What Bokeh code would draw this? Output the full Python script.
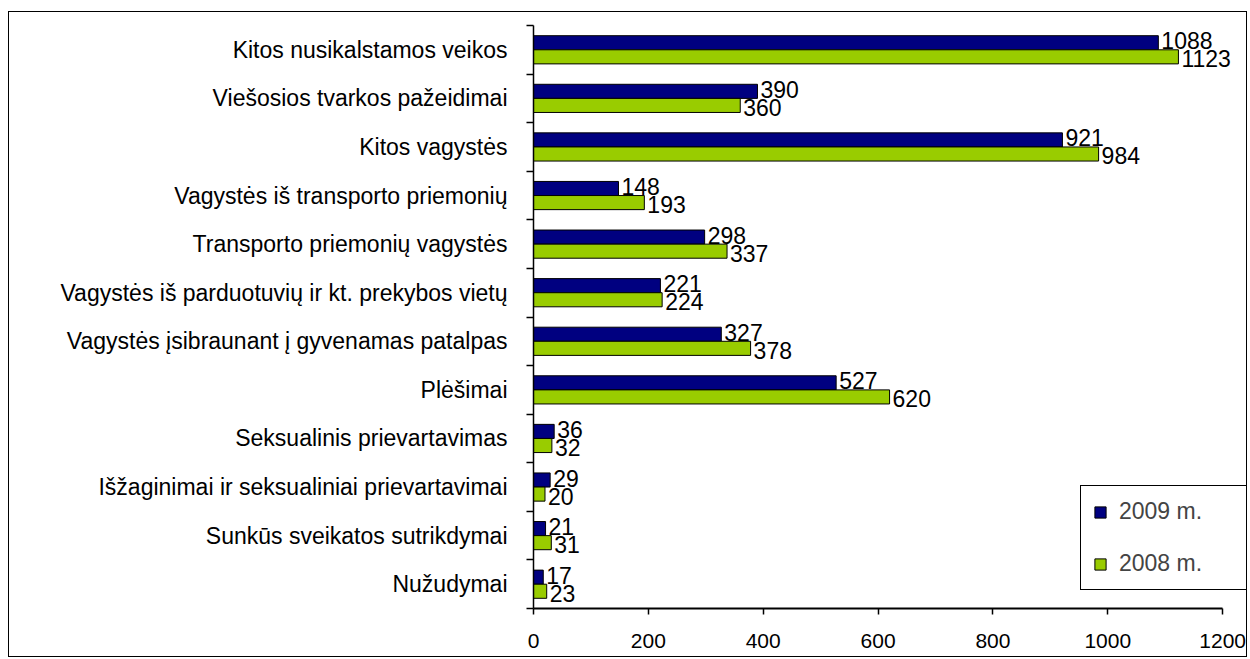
from bokeh.plotting import figure
from bokeh.models import FixedTicker, Range1d, Legend, LegendItem
from bokeh.core.properties import value
from bokeh.embed import file_html
from bokeh.resources import INLINE

categories = [
    "Kitos nusikalstamos veikos",
    "Viešosios tvarkos pažeidimai",
    "Kitos vagystės",
    "Vagystės iš transporto priemonių",
    "Transporto priemonių vagystės",
    "Vagystės iš parduotuvių ir kt. prekybos vietų",
    "Vagystės įsibraunant į gyvenamas patalpas",
    "Plėšimai",
    "Seksualinis prievartavimas",
    "Išžaginimai ir seksualiniai prievartavimai",
    "Sunkūs sveikatos sutrikdymai",
    "Nužudymai",
]
v2009 = [1088, 390, 921, 148, 298, 221, 327, 527, 36, 29, 21, 17]
v2008 = [1123, 360, 984, 193, 337, 224, 378, 620, 32, 20, 31, 23]
series_names = ["2009 m.", "2008 m."]
x_ticks = [0, 200, 400, 600, 800, 1000, 1200]

FONT = value("Liberation Sans")
n = len(categories)
centers = [n - i - 0.5 for i in range(n)]
bar_h = 0.29

p = figure(width=1239, height=646, output_backend="svg", toolbar_location=None,
           x_range=Range1d(0, 1245), y_range=Range1d(0, n),
           min_border_left=524, min_border_right=0, min_border_top=13, min_border_bottom=50)
p.styles = {"border": "1px solid black"}
p.margin = (11, 0, 0, 8)

y09 = [c + bar_h / 2 for c in centers]
y08 = [c - bar_h / 2 for c in centers]
r09 = p.hbar(y=y09, right=v2009, left=0, height=bar_h, fill_color="#000080", line_color="black", line_width=1)
r08 = p.hbar(y=y08, right=v2008, left=0, height=bar_h, fill_color="#99CC00", line_color="black", line_width=1)

p.text(x=v2009, y=[y + 0.04 for y in y09], text=[str(v) for v in v2009], x_offset=3,
       text_align="left", text_baseline="middle", text_font=FONT, text_font_size="23px", text_color="black")
p.text(x=v2008, y=[y - 0.04 for y in y08], text=[str(v) for v in v2008], x_offset=3,
       text_align="left", text_baseline="middle", text_font=FONT, text_font_size="23px", text_color="black")

p.grid.visible = False
p.outline_line_color = None

xa = p.xaxis[0]
xa.ticker = FixedTicker(ticks=x_ticks)
xa.bounds = (0, 1200)
xa.axis_line_color = "black"
xa.axis_line_width = 2
xa.major_tick_out = 6
xa.major_tick_in = 0
xa.major_tick_line_width = 1.5
xa.minor_tick_line_color = None
xa.major_label_text_font = "Liberation Sans"
xa.major_label_text_font_size = "21px"
xa.major_label_text_color = "black"
xa.major_label_standoff = 19

ya = p.yaxis[0]
ya.ticker = FixedTicker(ticks=centers, minor_ticks=list(range(n + 1)))
ya.major_label_overrides = {c: name for c, name in zip(centers, categories)}
ya.axis_line_color = "black"
ya.axis_line_width = 1.5
ya.major_tick_line_color = None
ya.major_tick_out = 0
ya.major_tick_in = 0
ya.minor_tick_line_color = "black"
ya.minor_tick_line_width = 1.5
ya.minor_tick_out = 7
ya.minor_tick_in = 0
ya.major_label_text_font = "Liberation Sans"
ya.major_label_text_font_size = "23px"
ya.major_label_text_color = "black"
ya.major_label_standoff = 19

legend = Legend(items=[LegendItem(label=series_names[0], renderers=[r09]),
                       LegendItem(label=series_names[1], renderers=[r08])],
                location=(547, 18), orientation="vertical",
                padding=12, spacing=25, label_height=27, label_width=115,
                glyph_width=14, glyph_height=14, label_standoff=12,
                label_text_font="Liberation Sans", label_text_font_size="23px",
                border_line_color="black", border_line_width=1.5, border_line_alpha=1.0,
                background_fill_color="white", background_fill_alpha=1.0)
p.add_layout(legend, "center")

open("out.html", "w").write(file_html(p, INLINE))
